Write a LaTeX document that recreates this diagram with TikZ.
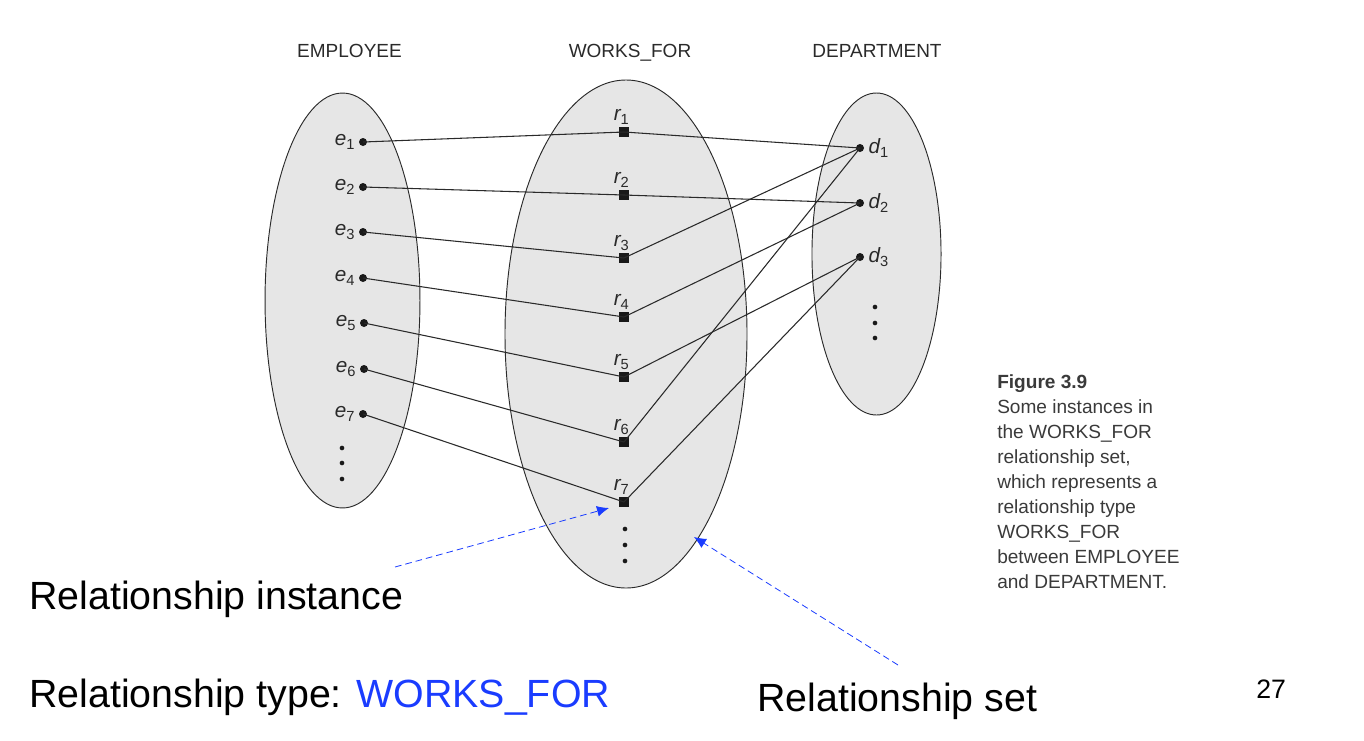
\documentclass[tikz,border=0pt]{standalone}
\usepackage{fontspec}
\setmainfont{Liberation Sans}
\usetikzlibrary{arrows.meta}
\definecolor{setfill}{HTML}{E6E6E6}
\definecolor{inkgray}{HTML}{2A2A2A}
\definecolor{capgray}{HTML}{3A3A3A}
\definecolor{linkblue}{HTML}{1A3CFF}
\newcommand{\sublab}[2]{{\itshape #1}\raisebox{-3pt}{\fontsize{11pt}{11pt}\selectfont #2}}
\begin{document}
\begin{tikzpicture}[x=0.75pt,y=-0.75pt,
  setshape/.style={draw=inkgray, fill=setfill, line width=0.7pt},
  entdot/.style={circle, fill=black!90, inner sep=0pt, minimum size=6pt},
  relsq/.style={rectangle, fill=black!90, inner sep=0pt, minimum size=7.5pt},
  lab/.style={font=\fontsize{15.5pt}{15.5pt}\selectfont, text=inkgray, inner sep=0pt},
  link/.style={draw=inkgray, line width=0.8pt},
  vdot/.style={circle, fill=black!90, inner sep=0pt, minimum size=3.5pt},
  settitle/.style={font=\fontsize{14.25pt}{16pt}\selectfont, text=inkgray, anchor=base, inner sep=0pt},
  captext/.style={font=\fontsize{14.3pt}{16pt}\selectfont, text=capgray, anchor=base west, inner sep=0pt},
  bigtext/.style={font=\fontsize{29.5pt}{32pt}\selectfont, anchor=base west, inner sep=0pt},
  pointer/.style={draw=linkblue, dash pattern=on 5pt off 3pt, line width=0.6pt, -{Latex[length=9pt,width=8pt]}}
]
\useasboundingbox (0,0) rectangle (1364,740);

% sets
\draw[setshape] (342.5,300.5) ellipse [x radius=58.1pt, y radius=155.6pt];
\draw[setshape] (626,334) ellipse [x radius=90.75pt, y radius=190.5pt];
\draw[setshape] (876.5,254) ellipse [x radius=48.4pt, y radius=120.75pt];

% titles
\node[settitle] (tE) at (349.5,57) {EMPLOYEE};
\node[settitle] (tW) at (630,57) {WORKS\_FOR};
\node[settitle] (tD) at (877,57) {DEPARTMENT};

% employees
\node[entdot, label={[lab, label distance=3pt]left:\sublab{e}{1}}] (e1) at (363,142) {};
\node[entdot, label={[lab, label distance=3pt]left:\sublab{e}{2}}] (e2) at (363,187) {};
\node[entdot, label={[lab, label distance=3pt]left:\sublab{e}{3}}] (e3) at (363,232) {};
\node[entdot, label={[lab, label distance=3pt]left:\sublab{e}{4}}] (e4) at (363,278) {};
\node[entdot, label={[lab, label distance=3pt]left:\sublab{e}{5}}] (e5) at (364,323) {};
\node[entdot, label={[lab, label distance=3pt]left:\sublab{e}{6}}] (e6) at (364,369) {};
\node[entdot, label={[lab, label distance=3pt]left:\sublab{e}{7}}] (e7) at (363,414) {};
\node[vdot] (ev1) at (342,448) {};
\node[vdot] (ev2) at (342,463) {};
\node[vdot] (ev3) at (342,479) {};

% relationships
\node[relsq, label={[lab, label distance=1.5pt, xshift=-2pt]above:\sublab{r}{1}}] (r1) at (624,132) {};
\node[relsq, label={[lab, label distance=1.5pt, xshift=-2pt]above:\sublab{r}{2}}] (r2) at (624,195) {};
\node[relsq, label={[lab, label distance=1.5pt, xshift=-2pt]above:\sublab{r}{3}}] (r3) at (624,258) {};
\node[relsq, label={[lab, label distance=1.5pt, xshift=-2pt]above:\sublab{r}{4}}] (r4) at (624,317) {};
\node[relsq, label={[lab, label distance=1.5pt, xshift=-2pt]above:\sublab{r}{5}}] (r5) at (624,377) {};
\node[relsq, label={[lab, label distance=1.5pt, xshift=-2pt]above:\sublab{r}{6}}] (r6) at (624,442) {};
\node[relsq, label={[lab, label distance=1.5pt, xshift=-2pt]above:\sublab{r}{7}}] (r7) at (624,502) {};
\node[vdot] (rv1) at (625,529) {};
\node[vdot] (rv2) at (625,545) {};
\node[vdot] (rv3) at (625,561) {};

% departments
\node[entdot, label={[lab, label distance=3pt]right:\sublab{d}{1}}] (d1) at (860,148) {};
\node[entdot, label={[lab, label distance=3pt]right:\sublab{d}{2}}] (d2) at (860,203) {};
\node[entdot, label={[lab, label distance=3pt]right:\sublab{d}{3}}] (d3) at (860,257) {};
\node[vdot] (dv1) at (875,307) {};
\node[vdot] (dv2) at (875,323) {};
\node[vdot] (dv3) at (875,338) {};

% links
\foreach \i in {1,...,7} \draw[link] (e\i.center) -- (r\i.center);
\draw[link] (r1.center) -- (d1.center);
\draw[link] (r2.center) -- (d2.center);
\draw[link] (r3.center) -- (d1.center);
\draw[link] (r4.center) -- (d2.center);
\draw[link] (r5.center) -- (d3.center);
\draw[link] (r6.center) -- (d1.center);
\draw[link] (r7.center) -- (d3.center);

% caption
\node[captext, font=\fontsize{14.3pt}{16pt}\bfseries\selectfont] (cap0) at (997,388) {Figure 3.9};
\node[captext] (cap1) at (997,413) {Some instances in};
\node[captext] (cap2) at (997,438) {the WORKS\_FOR};
\node[captext] (cap3) at (997,463) {relationship set,};
\node[captext] (cap4) at (997,488) {which represents a};
\node[captext] (cap5) at (997,513) {relationship type};
\node[captext] (cap6) at (997,538) {WORKS\_FOR};
\node[captext] (cap7) at (997,563) {between EMPLOYEE};
\node[captext] (cap8) at (997,588) {and DEPARTMENT.};

% annotations
\node[bigtext] (inst) at (29,609) {Relationship instance};
\node[bigtext] (rtype) at (29,707) {Relationship type: {\color{linkblue}WORKS\_FOR}};
\node[bigtext] (rset) at (757,711) {Relationship set};
\node[anchor=base west, inner sep=0pt, font=\fontsize{20pt}{22pt}\selectfont] (pg) at (1256,698) {27};

\coordinate (pi0) at (395,567);
\coordinate (pi1) at (609,508);
\coordinate (ps0) at (898,665);
\coordinate (ps1) at (694,537);
\draw[pointer] (pi0) -- (pi1);
\draw[pointer] (ps0) -- (ps1);
\end{tikzpicture}
\end{document}
